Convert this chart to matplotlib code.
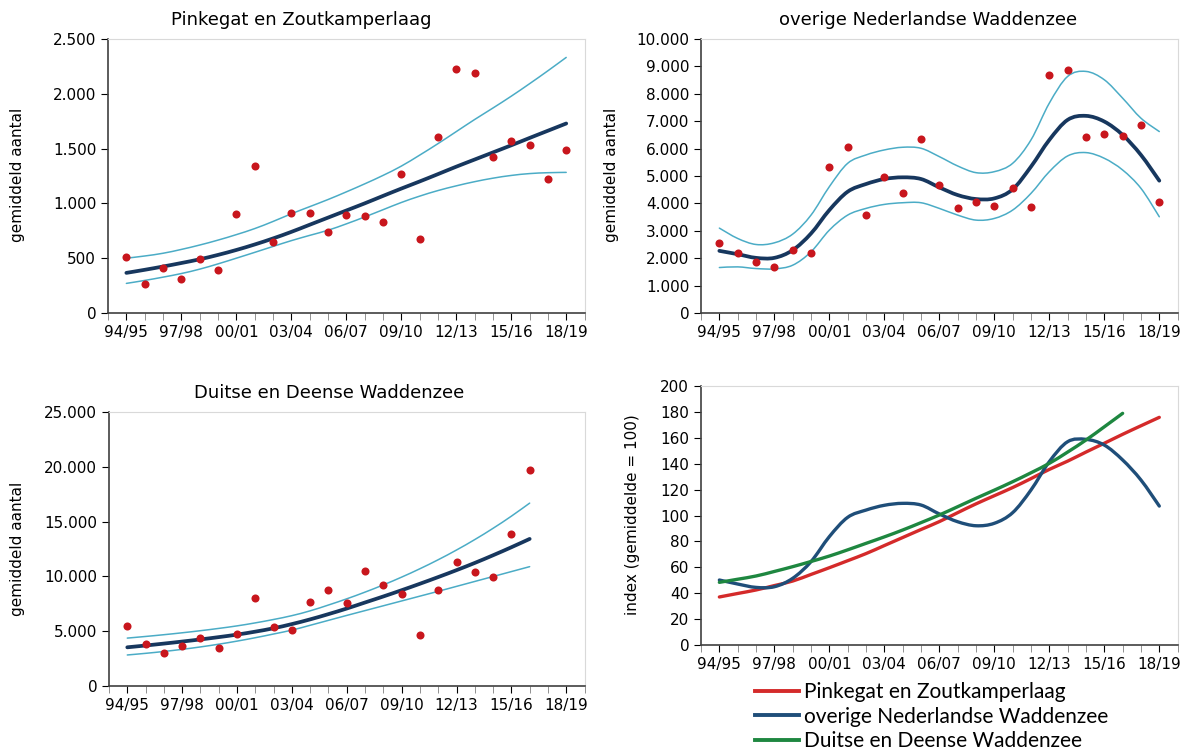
import matplotlib
matplotlib.use('Agg')
import matplotlib.pyplot as plt
from matplotlib.ticker import FuncFormatter, MultipleLocator
from matplotlib.path import Path
from matplotlib.patches import PathPatch
from matplotlib.lines import Line2D

seizoenen = ['94/95', '95/96', '96/97', '97/98', '98/99', '99/00', '00/01', '01/02',
             '02/03', '03/04', '04/05', '05/06', '06/07', '07/08', '08/09', '09/10',
             '10/11', '11/12', '12/13', '13/14', '14/15', '15/16', '16/17', '17/18',
             '18/19']

# Pinkegat en Zoutkamperlaag
pz_tellingen = [512, 262, 409, 311, 491, 390, 906, 1345, 652, 915, 912, 738, 893,
                881, 832, 1268, 671, 1610, 2226, 2192, 1421, 1573, 1537, 1226, 1488]
pz_trend = [366, 394, 424, 456, 490, 530, 575, 625, 680, 740, 805, 870, 935, 1000,
            1068, 1135, 1200, 1267, 1335, 1400, 1465, 1530, 1597, 1663, 1729]
pz_boven = [500, 520, 545, 580, 620, 665, 715, 770, 835, 905, 970, 1035, 1105, 1178,
            1255, 1340, 1440, 1545, 1655, 1765, 1870, 1978, 2092, 2210, 2332]
pz_onder = [270, 297, 327, 360, 400, 448, 500, 553, 607, 660, 708, 755, 813, 876,
            942, 1008, 1066, 1117, 1160, 1198, 1230, 1255, 1272, 1280, 1283]

# overige Nederlandse Waddenzee
nl_tellingen = [2561, 2195, 1878, 1671, 2293, 2207, 5341, 6061, 3561, 4976, 4378,
                6354, 4659, 3841, 4061, 3902, 4549, 3878, 8683, 8866, 6427, 6524,
                6476, 6866, 4049]
nl_trend = [2268, 2146, 2012, 2012, 2293, 2902, 3756, 4427, 4707, 4890, 4951, 4890,
            4585, 4305, 4159, 4183, 4512, 5341, 6317, 7049, 7195, 6988, 6500, 5768,
            4829]
nl_boven = [3098, 2720, 2500, 2561, 2878, 3573, 4610, 5463, 5768, 5951, 6049, 6012,
            5707, 5366, 5122, 5158, 5463, 6317, 7659, 8634, 8817, 8512, 7841, 7110,
            6622]
nl_onder = [1659, 1683, 1622, 1610, 1744, 2232, 3024, 3573, 3817, 3963, 4024, 4024,
            3817, 3573, 3390, 3451, 3756, 4366, 5158, 5732, 5854, 5646, 5219, 4549,
            3512]

# Duitse en Deense Waddenzee (t/m 16/17)
dk_tellingen = [5451, 3837, 2984, 3654, 4354, 3471, 4781, 8039, 5359, 5146, 7673,
                8739, 7552, 10475, 9196, 8404, 4689, 8770, 11327, 10414, 9957, 13855,
                19731]
dk_trend = [3530, 3695, 3870, 4055, 4250, 4460, 4690, 4960, 5270, 5650, 6080, 6560,
            7070, 7620, 8170, 8740, 9330, 9940, 10570, 11230, 11930, 12660, 13420]
dk_boven = [4370, 4520, 4680, 4855, 5045, 5255, 5485, 5760, 6070, 6420, 6860, 7390,
            7955, 8567, 9226, 9935, 10700, 11522, 12408, 13362, 14390, 15496, 16687]
dk_onder = [2830, 2980, 3150, 3345, 3565, 3815, 4095, 4405, 4745, 5100, 5540, 5990,
            6440, 6880, 7320, 7760, 8200, 8640, 9090, 9540, 9990, 10440, 10890]

# index (gemiddelde = 100)
idx_pz = [37.1, 39.8, 42.5, 45.9, 49.4, 54.5, 59.7, 65.1, 70.6, 76.8, 83.0, 89.2,
          95.3, 102.2, 109.0, 115.3, 121.6, 128.5, 135.6, 142.0, 149.0, 155.8, 162.7,
          169.3, 175.8]
idx_nl = [50.2, 47.1, 44.5, 45.0, 51.5, 64.4, 83.7, 98.6, 104.2, 107.9, 109.4, 108.1,
          101.2, 95.2, 92.1, 94.0, 102.2, 119.7, 141.6, 157.0, 158.8, 154.4, 142.9,
          127.4, 107.3]
idx_dk = [48.4, 50.8, 53.3, 56.8, 60.5, 64.5, 68.7, 73.5, 78.5, 83.5, 88.8, 94.5,
          100.4, 106.8, 113.3, 119.6, 126.1, 133.0, 140.3, 149.0, 158.3, 168.5, 178.9]

plt.rcParams['font.family'] = ['DejaVu Sans']

ROOD = '#C8161D'
DONKERBLAUW = '#17375E'
LICHTBLAUW = '#4BACC6'


def duizend(v, pos):
    return '{:,.0f}'.format(v).replace(',', '.')


def gladde_lijn(ax, y, **kw):
    # vloeiende lijn zoals in Excel (bezier tussen de punten)
    n = len(y)
    p = [(float(i), float(v)) for i, v in enumerate(y)]
    verts = [p[0]]
    codes = [Path.MOVETO]
    for i in range(n - 1):
        a = p[i - 1] if i > 0 else p[i]
        b, c = p[i], p[i + 1]
        d = p[i + 2] if i + 2 < n else p[i + 1]
        c1 = (b[0] + (c[0] - a[0]) / 6, b[1] + (c[1] - a[1]) / 6)
        c2 = (c[0] - (d[0] - b[0]) / 6, c[1] - (d[1] - b[1]) / 6)
        verts += [c1, c2, c]
        codes += [Path.CURVE4] * 3
    ax.add_patch(PathPatch(Path(verts, codes), fill=False, capstyle='round', **kw))


def opmaak(ax, ymax, ystap, fmt=True):
    ax.set_xlim(-1, 25)
    ax.set_ylim(0, ymax)
    ax.yaxis.set_major_locator(MultipleLocator(ystap))
    if fmt:
        ax.yaxis.set_major_formatter(FuncFormatter(duizend))
    ax.set_xticks(range(0, 25, 3))
    ax.set_xticklabels(seizoenen[::3])
    ax.set_xticks(range(-1, 26), minor=True)
    ax.tick_params(axis='x', which='both', length=5, color='#808080', direction='out')
    ax.tick_params(axis='y', length=5, color='#808080')
    ax.tick_params(labelsize=11, colors='#000000')
    for s in ['top', 'right']:
        ax.spines[s].set_color('#d9d9d9')
    for s in ['left', 'bottom']:
        ax.spines[s].set_color('#404040')
        ax.spines[s].set_linewidth(1.2)


def paneel(ax, tellingen, trend, boven, onder, ymax, ystap):
    gladde_lijn(ax, boven, edgecolor=LICHTBLAUW, lw=1.1)
    gladde_lijn(ax, onder, edgecolor=LICHTBLAUW, lw=1.1)
    gladde_lijn(ax, trend, edgecolor=DONKERBLAUW, lw=2.7)
    ax.plot(range(len(tellingen)), tellingen, 'o', color=ROOD, ms=5.8, mec='none')
    opmaak(ax, ymax, ystap)


fig = plt.figure(figsize=(11.9, 7.56), dpi=100)
ax1 = fig.add_axes([0.0908, 0.5860, 0.4004, 0.3624])
ax2 = fig.add_axes([0.5891, 0.5860, 0.4005, 0.3624])
ax3 = fig.add_axes([0.0916, 0.0926, 0.3996, 0.3624])
ax4 = fig.add_axes([0.5891, 0.1468, 0.4005, 0.3426])

paneel(ax1, pz_tellingen, pz_trend, pz_boven, pz_onder, 2500, 500)
paneel(ax2, nl_tellingen, nl_trend, nl_boven, nl_onder, 10000, 1000)
paneel(ax3, dk_tellingen, dk_trend, dk_boven, dk_onder, 25000, 5000)

kleuren4 = ['#D42A2A', '#1F4E79', '#1E8740']
for reeks, kl in zip([idx_pz, idx_nl, idx_dk], kleuren4):
    gladde_lijn(ax4, reeks, edgecolor=kl, lw=2.4)
opmaak(ax4, 200, 20, fmt=False)

fig.text(301 / 1190, 1 - 20 / 756, 'Pinkegat en Zoutkamperlaag', ha='center', va='center', fontsize=13)
fig.text(928 / 1190, 1 - 20 / 756, 'overige Nederlandse Waddenzee', ha='center', va='center', fontsize=13)
fig.text(329 / 1190, 1 - 393 / 756, 'Duitse en Deense Waddenzee', ha='center', va='center', fontsize=13)

fig.text(18 / 1190, 1 - 175 / 756, 'gemiddeld aantal', rotation=90, ha='center', va='center', fontsize=11)
fig.text(612 / 1190, 1 - 175 / 756, 'gemiddeld aantal', rotation=90, ha='center', va='center', fontsize=11)
fig.text(18 / 1190, 1 - 549 / 756, 'gemiddeld aantal', rotation=90, ha='center', va='center', fontsize=11)
fig.text(632 / 1190, 1 - 515 / 756, 'index (gemiddelde = 100)', rotation=90, ha='center', va='center', fontsize=11)

handles = [Line2D([], [], color=kl, lw=2.8) for kl in kleuren4]
fig.legend(handles,
           ['Pinkegat en Zoutkamperlaag', 'overige Nederlandse Waddenzee', 'Duitse en Deense Waddenzee'],
           loc='upper left', bbox_to_anchor=(755 / 1190, 1 - 682 / 756), frameon=False,
           prop={'family': 'Lato', 'size': 15}, handlelength=2.1, handletextpad=0.25,
           labelspacing=0.22, borderaxespad=0, borderpad=0)

fig.savefig('out.png', dpi=100)
